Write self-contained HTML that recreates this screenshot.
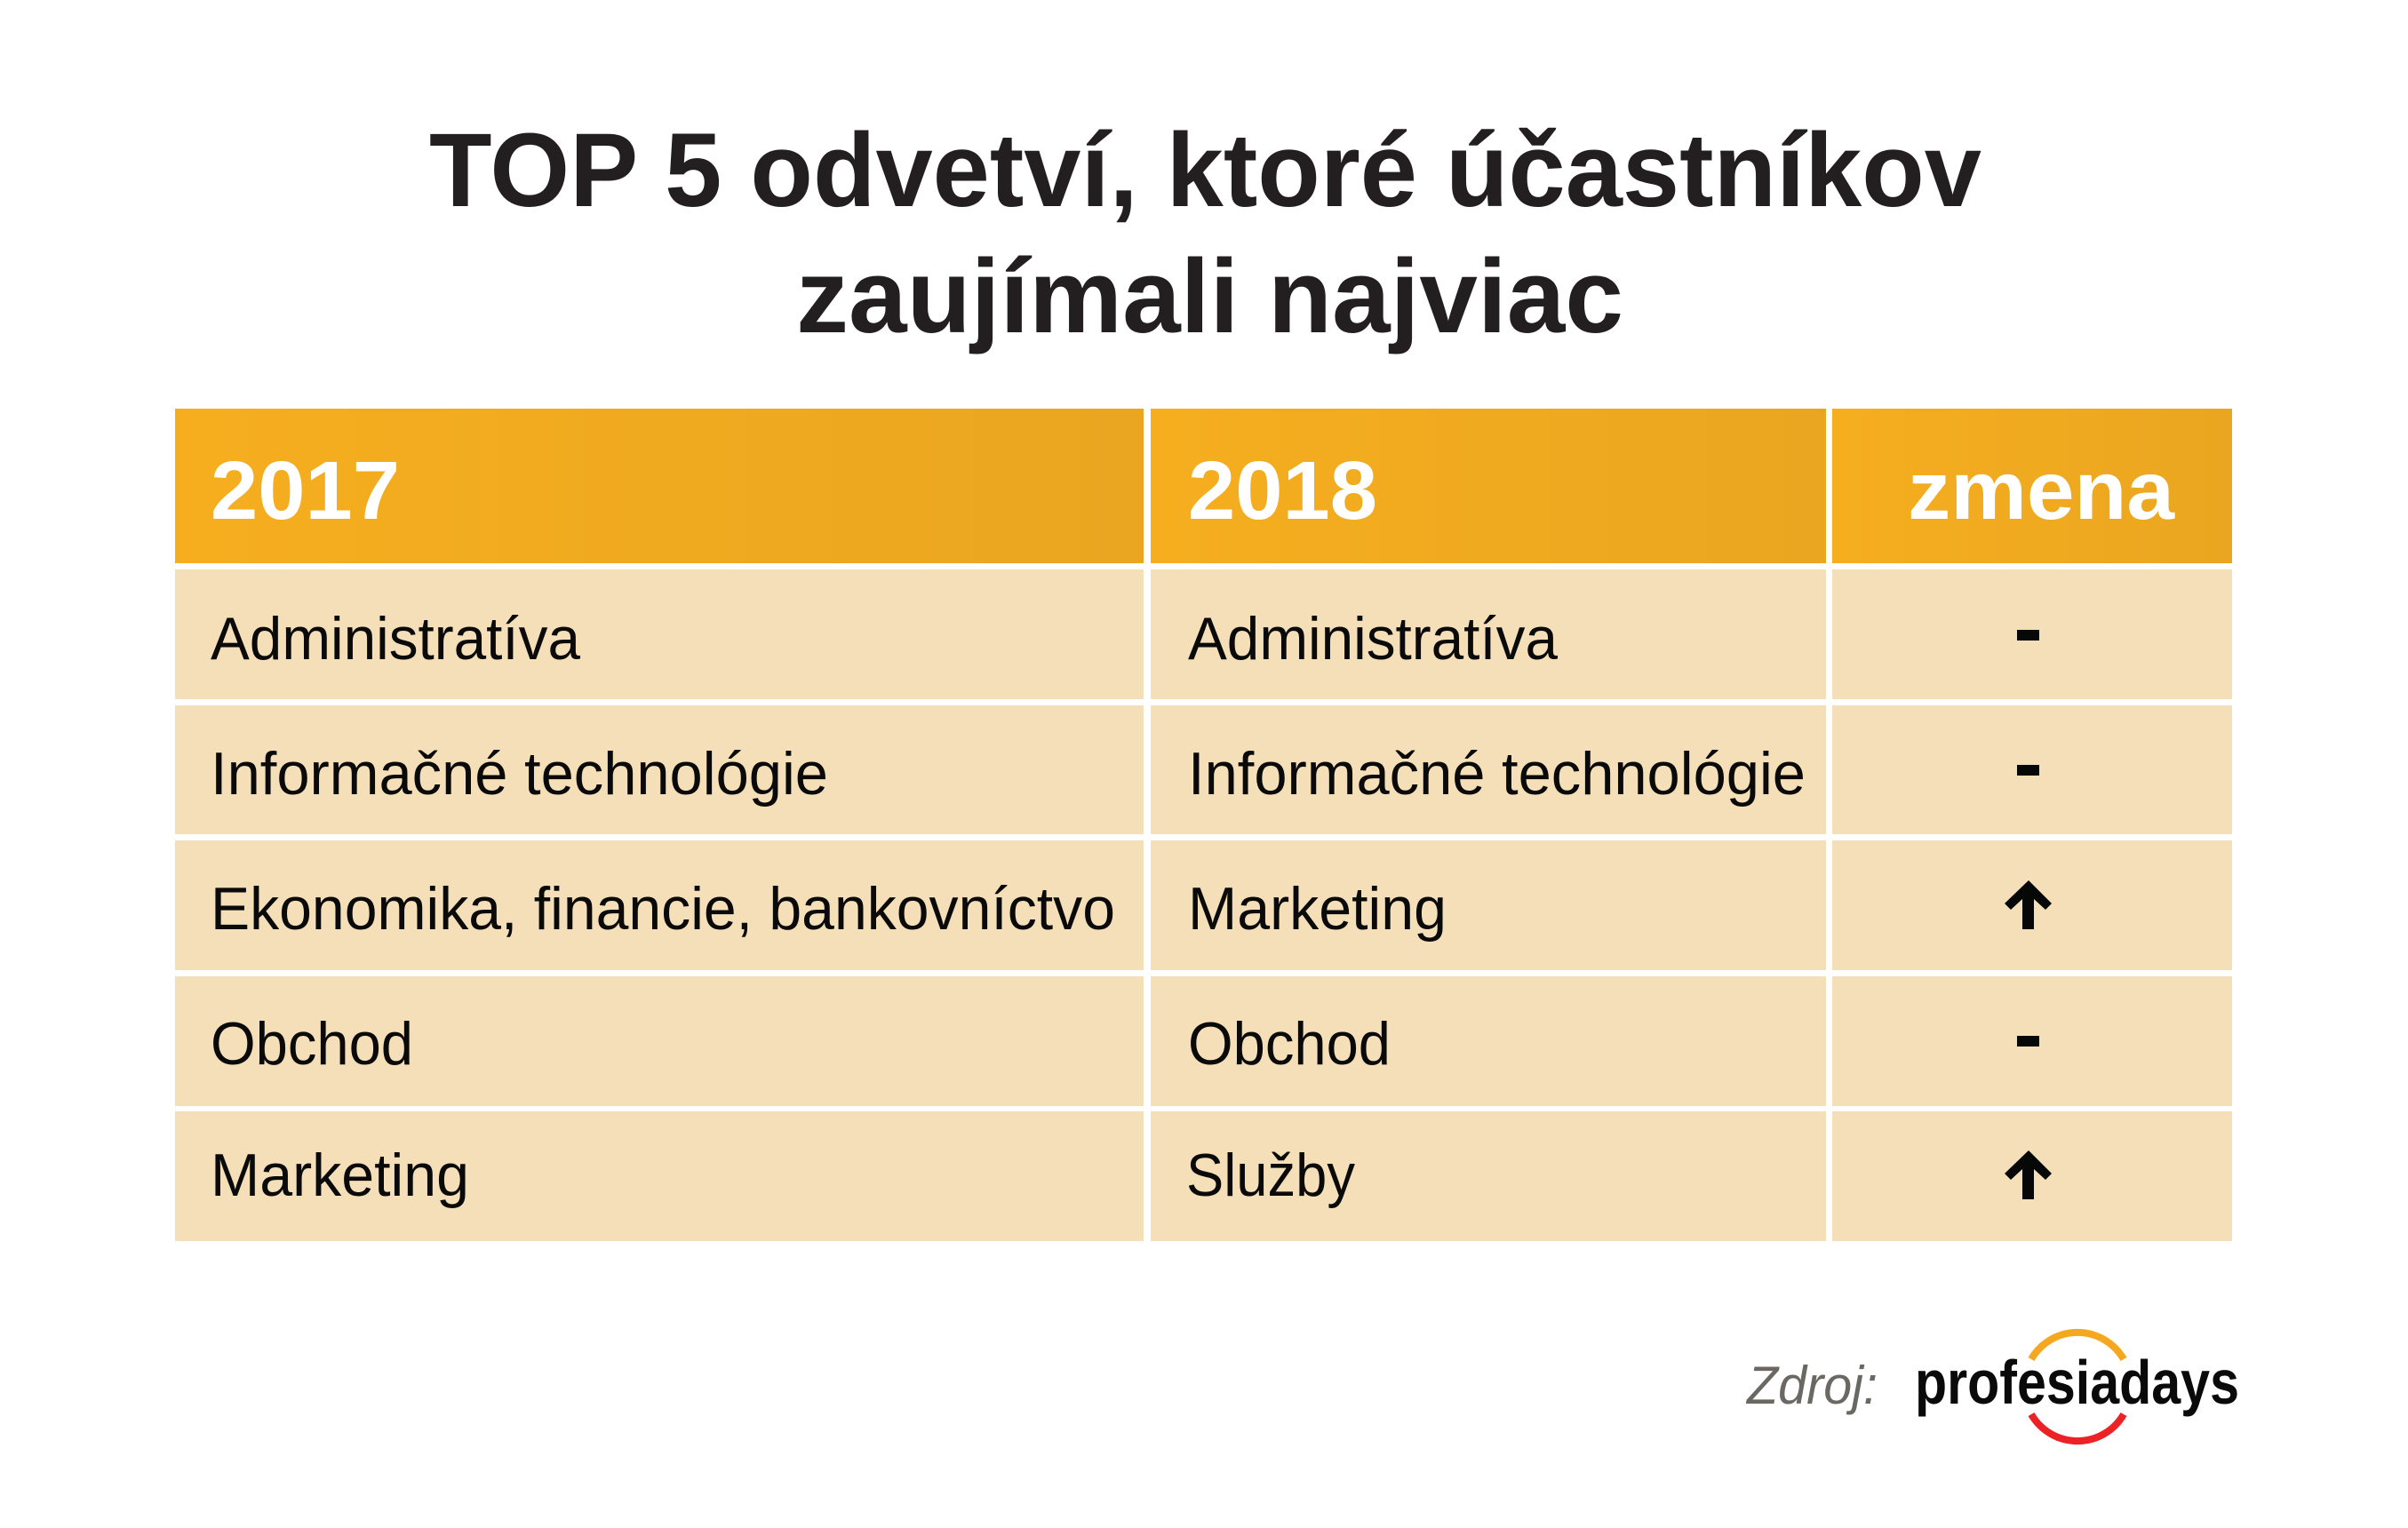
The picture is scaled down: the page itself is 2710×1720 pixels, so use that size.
<!DOCTYPE html>
<html><head><meta charset="utf-8"><style>
html,body{margin:0;padding:0;background:#fff;}
svg{display:block;}
text{font-family:"Liberation Sans",sans-serif;}
</style></head><body>
<svg width="2710" height="1720" viewBox="0 0 2710 1720" xmlns="http://www.w3.org/2000/svg">
<defs>
<linearGradient id="hg" x1="0" x2="1" y1="0" y2="0">
<stop offset="0" stop-color="#f6ae1f"/><stop offset="1" stop-color="#eaa620"/>
</linearGradient>
</defs>
<rect width="2710" height="1720" fill="#fff"/>
<g fill="#231f20" font-weight="bold" font-size="118">
<text x="483" y="232" textLength="1747" lengthAdjust="spacingAndGlyphs">TOP 5 odvetví, ktoré účastníkov</text>
<text x="896" y="374" textLength="931" lengthAdjust="spacingAndGlyphs">zaujímali najviac</text>
</g>
<rect x="197" y="460" width="1090" height="174" fill="url(#hg)"/>
<rect x="1295" y="460" width="760" height="174" fill="url(#hg)"/>
<rect x="2062" y="460" width="450" height="174" fill="url(#hg)"/>
<g fill="#f4dfb8">
<rect x="197" y="641" width="1090" height="146"/><rect x="1295" y="641" width="760" height="146"/><rect x="2062" y="641" width="450" height="146"/>
<rect x="197" y="794" width="1090" height="145"/><rect x="1295" y="794" width="760" height="145"/><rect x="2062" y="794" width="450" height="145"/>
<rect x="197" y="946" width="1090" height="146"/><rect x="1295" y="946" width="760" height="146"/><rect x="2062" y="946" width="450" height="146"/>
<rect x="197" y="1099" width="1090" height="146"/><rect x="1295" y="1099" width="760" height="146"/><rect x="2062" y="1099" width="450" height="146"/>
<rect x="197" y="1251" width="1090" height="146"/><rect x="1295" y="1251" width="760" height="146"/><rect x="2062" y="1251" width="450" height="146"/>
</g>
<g fill="#fff" font-weight="bold" font-size="93">
<text x="237" y="584" textLength="213" lengthAdjust="spacingAndGlyphs">2017</text>
<text x="1337" y="584" textLength="213" lengthAdjust="spacingAndGlyphs">2018</text>
<text x="2147" y="584" textLength="300" lengthAdjust="spacingAndGlyphs">zmena</text>
</g>
<g fill="#0a0a0a" font-size="68">
<text x="237" y="742" textLength="416" lengthAdjust="spacingAndGlyphs">Administratíva</text>
<text x="1337" y="742" textLength="416" lengthAdjust="spacingAndGlyphs">Administratíva</text>
<text x="237" y="894" textLength="695" lengthAdjust="spacingAndGlyphs">Informačné technológie</text>
<text x="1337" y="894" textLength="695" lengthAdjust="spacingAndGlyphs">Informačné technológie</text>
<text x="237" y="1046" textLength="1018" lengthAdjust="spacingAndGlyphs">Ekonomika, financie, bankovníctvo</text>
<text x="1337" y="1046" textLength="291" lengthAdjust="spacingAndGlyphs">Marketing</text>
<text x="237" y="1198" textLength="228" lengthAdjust="spacingAndGlyphs">Obchod</text>
<text x="1337" y="1198" textLength="228" lengthAdjust="spacingAndGlyphs">Obchod</text>
<text x="237" y="1346" textLength="291" lengthAdjust="spacingAndGlyphs">Marketing</text>
<text x="1335" y="1346" textLength="190" lengthAdjust="spacingAndGlyphs">Služby</text>
</g>
<g fill="#060808">
<rect x="2270" y="709" width="25" height="12"/>
<rect x="2270" y="861" width="25" height="12"/>
<rect x="2270" y="1166" width="25" height="12"/>
<path d="M2283 991 L2309 1017 L2302 1024 L2289 1012 L2289 1046 L2276 1046 L2276 1012 L2263 1024 L2256 1017 Z"/>
<path d="M2283 1295 L2309 1321 L2302 1328 L2289 1316 L2289 1350 L2276 1350 L2276 1316 L2263 1328 L2256 1321 Z"/>
</g>
<text x="1966" y="1580" font-size="60" font-style="italic" fill="#6b6864" textLength="147" lengthAdjust="spacingAndGlyphs">Zdroj:</text>
<text x="2155" y="1580" font-size="70" font-weight="bold" fill="#0a0a0a" textLength="365" lengthAdjust="spacingAndGlyphs">profesiadays</text>
<path d="M2286 1530 A60 60 0 0 1 2390 1530" fill="none" stroke="#f5a81f" stroke-width="8"/>
<path d="M2286 1592 A60 60 0 0 0 2390 1592" fill="none" stroke="#ec2227" stroke-width="8"/>
</svg>
</body></html>
